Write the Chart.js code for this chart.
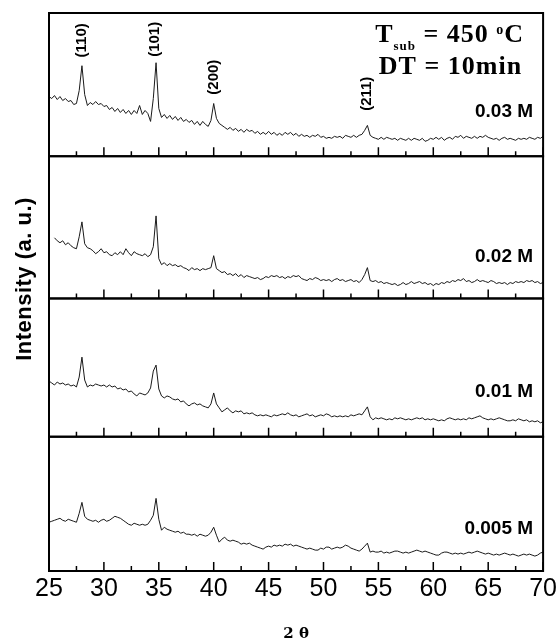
<!DOCTYPE html>
<html>
<head>
<meta charset="utf-8">
<title>XRD patterns</title>
<script src="https://cdn.jsdelivr.net/npm/chart.js@4.4.1/dist/chart.umd.min.js"></script>
<style>
  html, body { margin: 0; padding: 0; background: #fff; }
  #xrd { display: block; }
</style>
</head>
<body>
<canvas id="xrd" width="560" height="642"></canvas>
<script>
// 2 theta scan points (0.25 deg step)
const twoTheta = [
    25, 25.25, 25.5, 25.75, 26, 26.25, 26.5, 26.75, 27, 27.25, 27.5, 27.75, 28, 28.25, 28.5, 28.75, 29, 29.25, 29.5, 29.75,
    30, 30.25, 30.5, 30.75, 31, 31.25, 31.5, 31.75, 32, 32.25, 32.5, 32.75, 33, 33.25, 33.5, 33.75, 34, 34.25, 34.5, 34.75,
    35, 35.25, 35.5, 35.75, 36, 36.25, 36.5, 36.75, 37, 37.25, 37.5, 37.75, 38, 38.25, 38.5, 38.75, 39, 39.25, 39.5, 39.75,
    40, 40.25, 40.5, 40.75, 41, 41.25, 41.5, 41.75, 42, 42.25, 42.5, 42.75, 43, 43.25, 43.5, 43.75, 44, 44.25, 44.5, 44.75,
    45, 45.25, 45.5, 45.75, 46, 46.25, 46.5, 46.75, 47, 47.25, 47.5, 47.75, 48, 48.25, 48.5, 48.75, 49, 49.25, 49.5, 49.75,
    50, 50.25, 50.5, 50.75, 51, 51.25, 51.5, 51.75, 52, 52.25, 52.5, 52.75, 53, 53.25, 53.5, 53.75, 54, 54.25, 54.5, 54.75,
    55, 55.25, 55.5, 55.75, 56, 56.25, 56.5, 56.75, 57, 57.25, 57.5, 57.75, 58, 58.25, 58.5, 58.75, 59, 59.25, 59.5, 59.75,
    60, 60.25, 60.5, 60.75, 61, 61.25, 61.5, 61.75, 62, 62.25, 62.5, 62.75, 63, 63.25, 63.5, 63.75, 64, 64.25, 64.5, 64.75,
    65, 65.25, 65.5, 65.75, 66, 66.25, 66.5, 66.75, 67, 67.25, 67.5, 67.75, 68, 68.25, 68.5, 68.75, 69, 69.25, 69.5, 69.75,
    70
];

// intensity (a.u.) of each sample
const int003 = [
    60, 58, 61, 57, 60, 56, 58, 55, 56, 52, 53, 66, 91, 62, 51, 54, 52, 55, 52, 53,
    50, 51, 47, 49, 45, 48, 44, 47, 43, 46, 42, 46, 43, 51, 42, 46, 43, 35, 58, 94,
    48, 39, 42, 38, 41, 37, 40, 36, 39, 35, 37, 34, 36, 32, 35, 31, 35, 32, 30, 36,
    53, 38, 33, 31, 29, 27, 29, 26, 28, 25, 27, 24, 27, 25, 26, 23, 25, 22, 24, 22,
    25, 22, 24, 21, 23, 21, 24, 22, 24, 21, 23, 20, 22, 20, 21, 19, 21, 20, 22, 19,
    20, 18, 19, 18, 20, 19, 20, 18, 21, 20, 19, 21, 19, 21, 22, 26, 31, 21, 19, 18,
    17, 19, 17, 19, 18, 17, 18, 16, 18, 17, 16, 18, 16, 18, 17, 16, 18, 15, 16, 18,
    17, 19, 17, 19, 16, 18, 19, 17, 20, 19, 21, 18, 20, 19, 18, 20, 18, 20, 19, 21,
    19, 18, 17, 18, 16, 18, 19, 17, 18, 17, 16, 18, 17, 18, 17, 19, 18, 17, 19, 18,
    20
];
const int002 = [
    null, null, 61, 58, 56, 58, 54, 56, 53, 51, 50, 62, 77, 55, 51, 50, 48, 45, 47, 50,
    46, 47, 44, 43, 46, 44, 47, 44, 50, 46, 43, 47, 45, 44, 43, 45, 42, 44, 52, 83,
    40, 34, 36, 33, 35, 33, 34, 32, 33, 31, 30, 28, 31, 29, 30, 28, 30, 29, 30, 31,
    43, 30, 28, 26, 27, 24, 25, 23, 25, 22, 24, 21, 23, 22, 21, 20, 21, 19, 20, 22,
    21, 23, 22, 23, 21, 22, 20, 22, 21, 23, 22, 23, 20, 19, 18, 20, 19, 21, 20, 18,
    19, 18, 19, 17, 19, 20, 18, 19, 17, 18, 19, 17, 18, 16, 19, 24, 31, 18, 17, 18,
    16, 17, 15, 16, 15, 14, 15, 13, 14, 16, 14, 15, 17, 15, 16, 17, 15, 16, 14, 15,
    13, 15, 14, 16, 15, 17, 16, 18, 17, 19, 18, 20, 17, 18, 16, 17, 19, 17, 18, 17,
    16, 18, 17, 15, 16, 15, 16, 14, 16, 15, 17, 16, 17, 16, 18, 17, 18, 16, 17, 15,
    16
];
const int001 = [
    56, 54, 52, 55, 53, 54, 52, 53, 51, 52, 50, 60, 80, 57, 50, 52, 51, 53, 52, 51,
    52, 50, 52, 50, 51, 48, 49, 47, 48, 45, 46, 43, 41, 44, 43, 42, 44, 49, 66, 72,
    48, 41, 39, 41, 40, 38, 37, 38, 35, 36, 33, 31, 33, 34, 32, 33, 31, 30, 29, 33,
    44, 33, 29, 25, 27, 29, 26, 24, 26, 25, 26, 23, 24, 23, 24, 22, 21, 22, 21, 22,
    21, 20, 22, 21, 22, 23, 22, 24, 22, 21, 22, 20, 21, 22, 23, 21, 22, 20, 21, 22,
    21, 23, 22, 20, 21, 20, 21, 20, 21, 20, 22, 21, 22, 23, 22, 26, 30, 20, 17, 19,
    18, 19, 18, 17, 18, 17, 19, 18, 19, 18, 17, 18, 17, 18, 19, 18, 19, 17, 18, 17,
    18, 17, 16, 17, 16, 18, 19, 18, 17, 18, 17, 18, 17, 19, 18, 19, 20, 21, 19, 18,
    17, 18, 17, 18, 19, 18, 17, 16, 16, 17, 16, 18, 17, 16, 17, 15, 16, 15, 16, 14,
    15
];
const int0005 = [
    49, 50, 51, 52, 53, 51, 50, 52, 51, 50, 49, 58, 69, 55, 52, 51, 50, 51, 49, 51,
    52, 50, 51, 53, 55, 54, 53, 51, 49, 47, 46, 48, 47, 46, 47, 46, 47, 51, 56, 73,
    52, 41, 44, 42, 41, 40, 39, 40, 38, 39, 37, 37, 36, 37, 35, 37, 36, 35, 36, 39,
    44, 36, 29, 32, 34, 31, 30, 31, 30, 29, 27, 28, 27, 28, 26, 25, 24, 23, 22, 24,
    25, 24, 26, 25, 26, 25, 27, 26, 27, 25, 26, 25, 24, 23, 22, 23, 22, 21, 21, 23,
    22, 24, 24, 22, 23, 24, 23, 24, 26, 25, 23, 22, 21, 20, 22, 25, 28, 19, 20, 19,
    19, 20, 18, 19, 18, 19, 20, 20, 19, 18, 19, 18, 19, 20, 21, 20, 19, 20, 19, 18,
    17, 16, 16, 18, 19, 19, 18, 17, 18, 17, 18, 17, 18, 19, 18, 19, 20, 19, 18, 17,
    18, 17, 16, 17, 16, 17, 18, 17, 16, 17, 16, 15, 16, 17, 16, 17, 16, 15, 16, 18,
    19
];

// panels, top to bottom
const panelIds = ['yA', 'yB', 'yC', 'yD'];
const panelNames = ['0.03 M', '0.02 M', '0.01 M', '0.005 M'];
const panelSeries = [int003, int002, int001, int0005];
const panelRange = [144, 143, 139, 135];
const panelNameY = [45, 42, 45, 42];

// peak indexing, drawn in the top panel
const hklLabels = ['(110)', '(101)', '(200)', '(211)'];
const hklPos = [27.96, 34.66, 40.03, 53.92];
const hklY = [116.5, 117.5, 79.5, 62.8];

const majorTicks = [25, 30, 35, 40, 45, 50, 55, 60, 65, 70];
const minorTicks = [27.5, 32.5, 37.5, 42.5, 47.5, 52.5, 57.5, 62.5, 67.5];

const SANS = '"Liberation Sans", Arial, sans-serif';
const SERIF = '"Liberation Serif", "Times New Roman", serif';

function drawRuns(ctx, runs, right, baseline) {
    let total = 0;
    runs.forEach(r => {
        ctx.font = r.font;
        r.w = ctx.measureText(r.text).width;
        total += r.w;
    });
    let x = right - total;
    runs.forEach(r => {
        ctx.font = r.font;
        ctx.fillText(r.text, x, baseline + r.dy);
        x += r.w;
    });
}

const decorPlugin = {
    id: 'xrdDecor',
    afterDraw(chart) {
        const ctx = chart.ctx;
        const area = chart.chartArea;
        const xs = chart.scales.x;
        ctx.save();
        ctx.fillStyle = '#000';
        ctx.strokeStyle = '#000';

        panelIds.forEach((id, k) => {
            const ys = chart.scales[id];
            ctx.lineWidth = 2;
            ctx.strokeRect(area.left, ys.top, area.right - area.left, ys.bottom - ys.top);

            // inward ticks on the bottom of every panel
            ctx.lineWidth = 1.5;
            ctx.beginPath();
            majorTicks.forEach(v => {
                const px = xs.getPixelForValue(v);
                ctx.moveTo(px, ys.bottom);
                ctx.lineTo(px, ys.bottom - 9);
            });
            minorTicks.forEach(v => {
                const px = xs.getPixelForValue(v);
                ctx.moveTo(px, ys.bottom);
                ctx.lineTo(px, ys.bottom - 5);
            });
            ctx.stroke();

            ctx.font = 'bold 19px ' + SANS;
            ctx.textAlign = 'right';
            ctx.textBaseline = 'middle';
            ctx.fillText(panelNames[k], area.right - 10, ys.getPixelForValue(panelNameY[k]));
        });

        // (hkl) labels, rotated
        const top = chart.scales[panelIds[0]];
        ctx.font = 'bold 15px ' + SANS;
        ctx.textAlign = 'center';
        ctx.textBaseline = 'middle';
        hklLabels.forEach((txt, i) => {
            ctx.save();
            ctx.translate(xs.getPixelForValue(hklPos[i]), top.getPixelForValue(hklY[i]));
            ctx.rotate(-Math.PI / 2);
            ctx.fillText(txt, 0, 0);
            ctx.restore();
        });

        // growth conditions
        ctx.textAlign = 'left';
        ctx.textBaseline = 'alphabetic';
        ctx.letterSpacing = '1px';
        const big = 'bold 26px ' + SERIF;
        drawRuns(ctx, [
            {text: 'T', font: big, dy: 0},
            {text: 'sub', font: 'bold 13px ' + SERIF, dy: 8},
            {text: ' = 450 ', font: big, dy: 0},
            {text: 'o', font: 'bold 14px ' + SERIF, dy: -8},
            {text: 'C', font: big, dy: 0}
        ], area.right - 19, area.top + 29);
        drawRuns(ctx, [{text: 'DT = 10min', font: big, dy: 0}], area.right - 21, area.top + 61);

        // y axis title spans all panels
        ctx.letterSpacing = '0.5px';
        ctx.font = 'bold 22px ' + SANS;
        ctx.textAlign = 'center';
        ctx.translate(31, 279);
        ctx.rotate(-Math.PI / 2);
        ctx.fillText('Intensity (a. u.)', 0, 0);
        ctx.restore();
    }
};

function panelAxis(k) {
    return {
        type: 'linear',
        position: 'left',
        stack: 'xrd',
        stackWeight: panelRange[k],
        min: 0,
        max: panelRange[k],
        ticks: {display: false},
        grid: {display: false, drawTicks: false},
        border: {display: false}
    };
}

// left stacked axes are laid out last-defined on top, so add them bottom first
const scales = {
    x: {
        type: 'linear',
        position: 'bottom',
        min: 25,
        max: 70,
        ticks: {stepSize: 5, color: '#000', padding: 3, font: {family: SANS, size: 25}},
        grid: {display: false, drawTicks: false},
        border: {display: false},
        title: {
            display: true,
            text: '2 θ',
            color: '#000',
            font: {family: '"DejaVu Serif", "Liberation Serif", serif', size: 15, weight: 'bold', lineHeight: 1},
            padding: {top: 20, bottom: 0}
        }
    }
};
for (let k = panelIds.length - 1; k >= 0; k--) {
    scales[panelIds[k]] = panelAxis(k);
}

const datasets = panelSeries.map((series, k) => ({
    label: panelNames[k],
    data: twoTheta.map((t, i) => ({x: t, y: series[i]})),
    yAxisID: panelIds[k],
    borderColor: '#1a1a1a',
    borderWidth: 1,
    pointRadius: 0,
    tension: 0,
    fill: false
}));

new Chart(document.getElementById('xrd'), {
    type: 'line',
    data: {datasets: datasets},
    options: {
        responsive: false,
        animation: false,
        devicePixelRatio: 1,
        layout: {padding: {left: 49, right: 14, top: 13, bottom: 0}},
        plugins: {legend: {display: false}, tooltip: {enabled: false}},
        scales: scales
    },
    plugins: [decorPlugin]
});
</script>
</body>
</html>
